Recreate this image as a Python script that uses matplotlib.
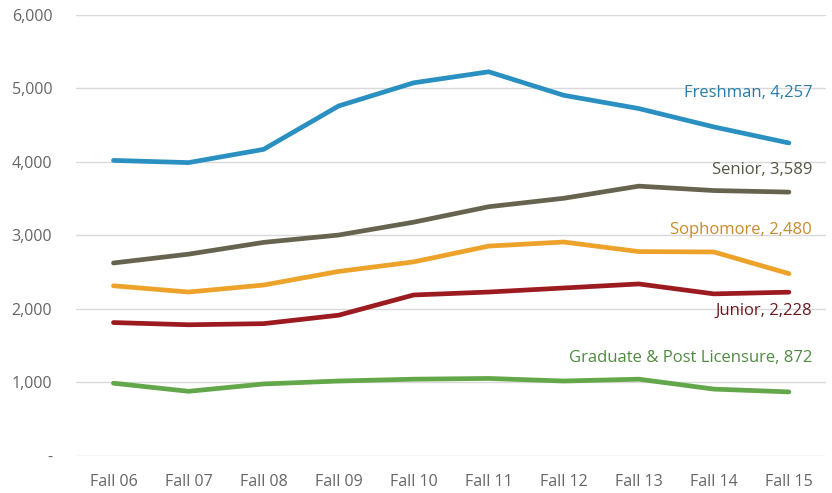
import matplotlib.pyplot as plt
from matplotlib.ticker import FuncFormatter

years = ['Fall 06', 'Fall 07', 'Fall 08', 'Fall 09', 'Fall 10',
         'Fall 11', 'Fall 12', 'Fall 13', 'Fall 14', 'Fall 15']

freshman = [4020, 3990, 4170, 4760, 5075, 5225, 4905, 4725, 4475, 4257]
senior = [2625, 2745, 2905, 3005, 3180, 3390, 3505, 3670, 3610, 3589]
sophomore = [2315, 2230, 2325, 2510, 2640, 2855, 2910, 2780, 2775, 2480]
junior = [1815, 1785, 1800, 1915, 2190, 2230, 2285, 2340, 2205, 2228]
graduate = [990, 880, 980, 1020, 1045, 1055, 1020, 1045, 910, 872]

series = [
    ('Freshman', freshman, '#2a8fc1', '#2a7ca8', 4930),
    ('Senior', senior, '#66644f', '#555545', 3890),
    ('Sophomore', sophomore, '#eda22a', '#c98a2c', 3075),
    ('Junior', junior, '#9b1b21', '#6b1a1e', 1975),
    ('Graduate & Post Licensure', graduate, '#62a74a', '#4f8c3f', 1335),
]

plt.rcParams['font.family'] = ['Open Sans', 'DejaVu Sans']

fig = plt.figure(figsize=(8.32, 4.93), dpi=100)
ax = fig.add_axes([0.0913, 0.075, 0.902, 0.895])

x = list(range(len(years)))
for name, vals, col, tcol, ly in series:
    ax.plot(x, vals, color=col, lw=3.4, solid_capstyle='round', zorder=3)
    ax.text(9.31, ly, f'{name}, {vals[-1]:,}', color=tcol, fontsize=12,
            ha='right', va='center', zorder=4)

ax.set_xlim(-0.5, 9.5)
ax.set_ylim(0, 6000)
ax.set_yticks(range(0, 6001, 1000))
ax.yaxis.set_major_formatter(FuncFormatter(lambda v, p: '-' if v == 0 else f'{int(v):,}'))
ax.set_xticks(x)
ax.set_xticklabels(years)
ax.grid(axis='y', color='#d9d9d9', lw=1)
ax.set_axisbelow(True)
for s in ax.spines.values():
    s.set_visible(False)
ax.tick_params(length=0, labelsize=11.5, labelcolor='#666666')
ax.tick_params(axis='y', pad=17)
ax.tick_params(axis='x', pad=13)

fig.savefig('out.png', dpi=100)
